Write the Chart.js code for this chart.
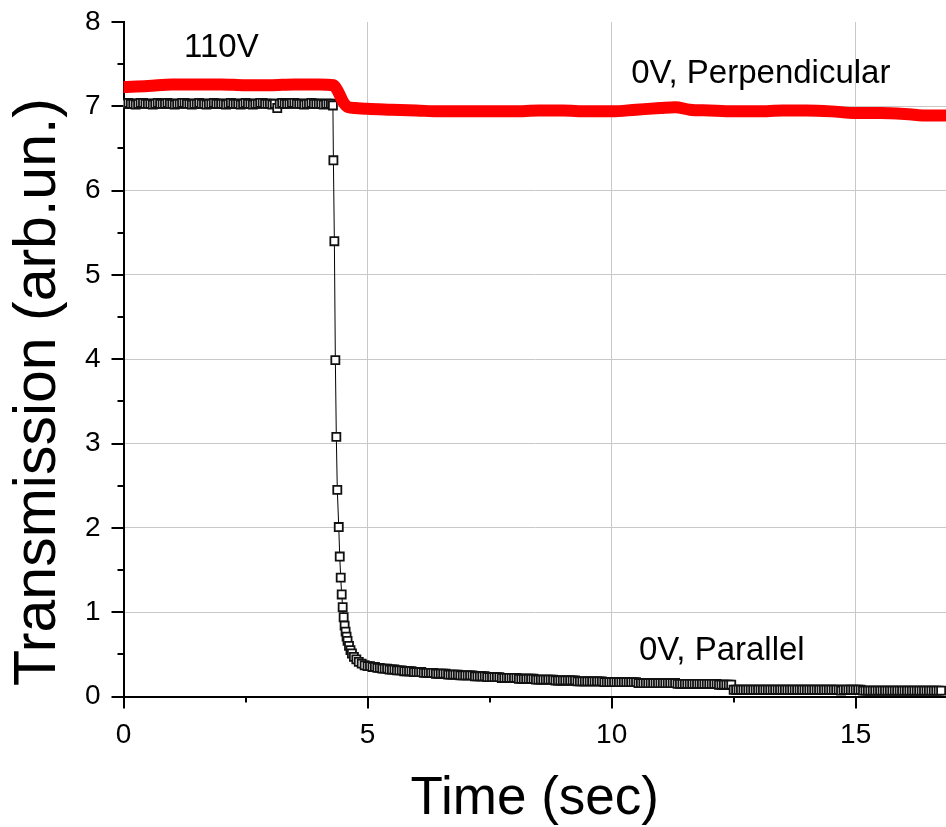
<!DOCTYPE html>
<html>
<head>
<meta charset="utf-8">
<script src="https://cdn.jsdelivr.net/npm/chart.js@4"></script>
<style>
  body { margin: 0; background: #fff; }
  #wrap { width: 946px; height: 827px; }
</style>
</head>
<body>
<div id="wrap"><canvas id="chart" width="946" height="827"></canvas></div>
<script>
// --- Data ---
const sampleStep = 0.05;          // logger sampling interval, sec

// black trace, 0V parallel: flat part before switching (t = 0 .. 4.25)
const flatStart = 0;
const blackFlat = [
  7.03, 7.03, 7.04, 7.03, 7.03, 7.02, 7.03, 7.04, 7.04, 7.03,
  7.03, 7.03, 7.02, 7.03, 7.04, 7.03, 7.03, 7.03, 7.04, 7.03,
  7.03, 7.02, 7.03, 7.03, 7.04, 7.04, 7.03, 7.03, 7.02, 7.03,
  7.03, 7.04, 7.03, 7.03, 7.02, 7.03, 7.03, 7.04, 7.03, 7.03,
  7.03, 7.03, 7.02, 7.03, 7.04, 7.03, 7.03, 7.03, 7.02, 7.03,
  7.04, 7.03, 7.03, 7.02, 7.03, 7.03, 7.04, 7.04, 7.03, 7.03,
  7.03, 7.02, 7.03, 6.98, 7.03, 7.04, 7.03, 7.03, 7.03, 7.04,
  7.04, 7.03, 7.03, 7.03, 7.02, 7.03, 7.03, 7.04, 7.03, 7.03,
  7.03, 7.03, 7.02, 7.03, 7.03, 7.03
];

// black trace: the fast drop
const dropTimes = [4.29, 4.30, 4.32, 4.34, 4.36, 4.38, 4.41, 4.43, 4.45, 4.47, 4.49,
  4.51, 4.53, 4.55, 4.57, 4.59, 4.62, 4.65, 4.68, 4.72, 4.77, 4.82, 4.88, 4.94];
const dropValues = [7.01, 6.36, 5.40, 3.99, 3.08, 2.45, 2.01, 1.66, 1.41, 1.21, 1.06,
  0.94, 0.84, 0.77, 0.71, 0.66, 0.60, 0.55, 0.51, 0.47, 0.44, 0.41, 0.39, 0.37];

// black trace: slow tail (t = 5.00 .. 16.75)
const tailStart = 5.0;
const blackTail = [
  0.36, 0.36, 0.35, 0.35, 0.34, 0.34, 0.33, 0.33, 0.33, 0.32,
  0.32, 0.32, 0.31, 0.31, 0.31, 0.30, 0.30, 0.30, 0.30, 0.29,
  0.29, 0.29, 0.29, 0.28, 0.28, 0.28, 0.28, 0.28, 0.27, 0.27,
  0.27, 0.27, 0.27, 0.26, 0.26, 0.26, 0.26, 0.26, 0.25, 0.25,
  0.25, 0.25, 0.25, 0.25, 0.24, 0.24, 0.24, 0.24, 0.24, 0.23,
  0.23, 0.23, 0.23, 0.23, 0.23, 0.22, 0.22, 0.22, 0.22, 0.22,
  0.22, 0.22, 0.21, 0.21, 0.21, 0.21, 0.21, 0.21, 0.21, 0.20,
  0.20, 0.20, 0.20, 0.20, 0.20, 0.20, 0.20, 0.19, 0.19, 0.19,
  0.19, 0.19, 0.19, 0.19, 0.19, 0.19, 0.18, 0.18, 0.18, 0.18,
  0.18, 0.18, 0.18, 0.18, 0.18, 0.18, 0.18, 0.17, 0.17, 0.17,
  0.17, 0.17, 0.17, 0.17, 0.17, 0.17, 0.17, 0.17, 0.17, 0.17,
  0.17, 0.16, 0.16, 0.16, 0.16, 0.16, 0.16, 0.16, 0.16, 0.16,
  0.16, 0.16, 0.16, 0.16, 0.16, 0.16, 0.16, 0.15, 0.15, 0.15,
  0.15, 0.15, 0.15, 0.15, 0.15, 0.15, 0.15, 0.15, 0.15, 0.15,
  0.15, 0.15, 0.15, 0.15, 0.14, 0.14, 0.14, 0.14, 0.14, 0.14,
  0.08, 0.08, 0.08, 0.08, 0.08, 0.08, 0.08, 0.08, 0.08, 0.08,
  0.08, 0.08, 0.08, 0.08, 0.08, 0.08, 0.08, 0.08, 0.08, 0.08,
  0.08, 0.08, 0.08, 0.08, 0.08, 0.08, 0.08, 0.08, 0.08, 0.08,
  0.08, 0.08, 0.08, 0.08, 0.08, 0.08, 0.08, 0.08, 0.08, 0.08,
  0.08, 0.08, 0.08, 0.08, 0.07, 0.08, 0.08, 0.08, 0.08, 0.08,
  0.08, 0.08, 0.08, 0.07, 0.07, 0.07, 0.07, 0.07, 0.07, 0.07,
  0.07, 0.07, 0.07, 0.07, 0.07, 0.07, 0.07, 0.07, 0.07, 0.07,
  0.07, 0.07, 0.07, 0.07, 0.07, 0.07, 0.07, 0.07, 0.07, 0.07,
  0.07, 0.07, 0.07, 0.07, 0.07, 0.07
];

// red trace, 0V perpendicular
const redTimes = [0, 0.5, 1.0, 1.5, 2.0, 2.5, 3.0, 3.5, 4.0, 4.3, 4.4, 4.5, 4.6, 4.75,
  5.0, 5.5, 6.0, 6.5, 7.0, 7.5, 8.0, 8.5, 9.0, 9.5, 10.0, 10.5, 11.0, 11.3, 11.6,
  12.0, 12.5, 13.0, 13.5, 14.0, 14.5, 15.0, 15.5, 16.0, 16.5, 16.85];
const redValues = [7.23, 7.24, 7.26, 7.26, 7.26, 7.25, 7.25, 7.26, 7.26, 7.25, 7.17, 7.05, 6.99, 6.98,
  6.97, 6.96, 6.95, 6.94, 6.94, 6.94, 6.94, 6.95, 6.95, 6.94, 6.94, 6.96, 6.98, 6.99, 6.96,
  6.95, 6.94, 6.94, 6.95, 6.95, 6.94, 6.92, 6.92, 6.91, 6.89, 6.89];

// axes
const xMax = 16.85;
const yMax = 8;
const xTickValues = [0, 2.5, 5, 7.5, 10, 12.5, 15];
const yTickValues = [0, 0.5, 1, 1.5, 2, 2.5, 3, 3.5, 4, 4.5, 5, 5.5, 6, 6.5, 7, 7.5, 8];
const yTitle = 'Transmission (arb.un.)';

// text labels on the plot, in data coordinates (left, baseline)
const noteTexts = ['110V', '0V, Perpendicular', '0V, Parallel'];
const noteX = [1.24, 10.4, 10.56];
const noteY = [7.59, 7.28, 0.43];

const FONT = '"Liberation Sans", Arial, sans-serif';

// --- Build points ---
const blackPoints = [];
blackFlat.forEach((v, i) => blackPoints.push({ x: flatStart + i * sampleStep, y: v }));
dropTimes.forEach((t, i) => blackPoints.push({ x: t, y: dropValues[i] }));
blackTail.forEach((v, i) => blackPoints.push({ x: tailStart + i * sampleStep, y: v }));

const redPoints = redTimes.map((t, i) => ({ x: t, y: redValues[i] }));

// outward tick marks (major long / minor short), notes and the y title
const decorations = {
  id: 'decorations',
  afterDraw(chart) {
    const ctx = chart.ctx;
    const xs = chart.scales.x, ys = chart.scales.y;
    ctx.save();
    ctx.strokeStyle = '#000';
    ctx.lineWidth = 2;
    ctx.beginPath();
    xTickValues.forEach(v => {
      const px = Math.round(xs.getPixelForValue(v));
      const len = v % 5 === 0 ? 12 : 6;
      ctx.moveTo(px, xs.top);
      ctx.lineTo(px, xs.top + len);
    });
    yTickValues.forEach(v => {
      const py = Math.round(ys.getPixelForValue(v));
      const len = Number.isInteger(v) ? 12 : 6;
      ctx.moveTo(ys.right, py);
      ctx.lineTo(ys.right - len, py);
    });
    ctx.stroke();

    ctx.fillStyle = '#000';
    ctx.font = '33px ' + FONT;
    ctx.textAlign = 'left';
    ctx.textBaseline = 'alphabetic';
    noteTexts.forEach((txt, i) => {
      ctx.fillText(txt, xs.getPixelForValue(noteX[i]), ys.getPixelForValue(noteY[i]));
    });

    // y axis title
    ctx.font = '59px ' + FONT;
    ctx.textAlign = 'center';
    ctx.translate(55, 392);
    ctx.rotate(-Math.PI / 2);
    ctx.fillText(yTitle, 0, 0);
    ctx.restore();
  }
};

new Chart(document.getElementById('chart'), {
  type: 'scatter',
  data: {
    datasets: [
      {
        label: '0V, Perpendicular',
        data: redPoints,
        showLine: true,
        borderColor: '#ff0000',
        borderWidth: 12,
        pointRadius: 0,
        cubicInterpolationMode: 'monotone',
        borderCapStyle: 'round'
      },
      {
        label: '0V, Parallel',
        data: blackPoints,
        showLine: true,
        borderColor: '#000',
        borderWidth: 1,
        pointStyle: 'rect',
        pointRadius: 5.7,
        pointBorderWidth: 1.8,
        pointBorderColor: '#111',
        pointBackgroundColor: '#fff'
      }
    ]
  },
  options: {
    responsive: false,
    animation: false,
    events: [],
    layout: { autoPadding: false, padding: { top: 22, right: 0, left: 0, bottom: 0 } },
    plugins: {
      legend: { display: false },
      tooltip: { enabled: false }
    },
    scales: {
      x: {
        type: 'linear',
        min: 0,
        max: xMax,
        afterBuildTicks: s => { s.ticks = xTickValues.map(v => ({ value: v })); },
        afterFit: s => { s.height = 130.5; s.paddingLeft = 0; s.paddingRight = 0; },
        grid: {
          drawTicks: false,
          color: c => (c.tick && c.tick.value % 5 === 0 && c.tick.value !== 0) ? '#c8c8c8' : 'rgba(0,0,0,0)',
          lineWidth: 1
        },
        border: { color: '#000', width: 2 },
        ticks: {
          autoSkip: false,
          maxRotation: 0,
          padding: 22,
          color: '#000',
          font: { family: FONT, size: 28 },
          callback: v => (v % 5 === 0 ? v : '')
        },
        title: {
          display: true,
          text: 'Time (sec)',
          color: '#000',
          font: { family: FONT, size: 53 },
          padding: { top: 0, bottom: -4 }
        }
      },
      y: {
        type: 'linear',
        min: 0,
        max: yMax,
        afterBuildTicks: s => { s.ticks = yTickValues.map(v => ({ value: v })); },
        afterFit: s => { s.width = 123.5; s.paddingTop = 0; s.paddingBottom = 0; },
        grid: {
          drawTicks: false,
          color: c => (c.tick && Number.isInteger(c.tick.value) && c.tick.value > 0 && c.tick.value < yMax) ? '#c8c8c8' : 'rgba(0,0,0,0)',
          lineWidth: 1
        },
        border: { color: '#000', width: 2 },
        ticks: {
          autoSkip: false,
          padding: 23,
          color: '#000',
          font: { family: FONT, size: 28 },
          callback: v => (Number.isInteger(v) ? v : '')
        },
        title: { display: false }
      }
    }
  },
  plugins: [decorations]
});
</script>
</body>
</html>
